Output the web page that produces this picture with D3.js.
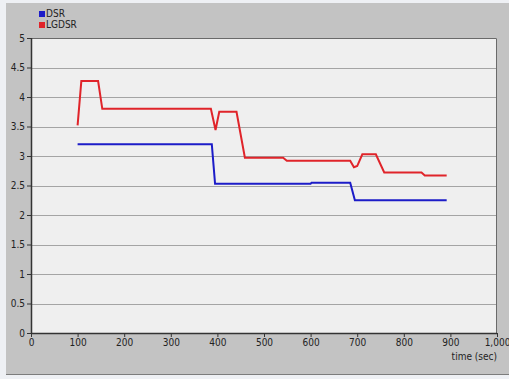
<!DOCTYPE html>
<html>
<head>
<meta charset="utf-8">
<script src="https://cdn.jsdelivr.net/npm/d3@7"></script>
<style>
  html, body { margin: 0; padding: 0; background: #f2f2f6; }
  svg { display: block; }
  text { font-family: "Liberation Sans Narrow", "DejaVu Sans Condensed", Arial, sans-serif; font-size: 10px; fill: #222; }
</style>
</head>
<body>
<svg id="chart" width="509" height="379"></svg>
<script>
// Series: time (sec) and metric value
const dsrTime  = [100, 388, 395, 600, 602, 685, 695, 892];
const dsrValue = [3.20, 3.20, 2.53, 2.53, 2.545, 2.545, 2.25, 2.25];

const lgdsrTime  = [100, 108, 144, 153, 386, 396, 404, 441, 459, 541, 549, 685, 693, 700, 711, 740, 758, 838, 845, 892];
const lgdsrValue = [3.52, 4.27, 4.27, 3.80, 3.80, 3.44, 3.75, 3.75, 2.97, 2.97, 2.92, 2.92, 2.81, 2.83, 3.03, 3.03, 2.72, 2.72, 2.67, 2.67];

const xTicks = [0, 100, 200, 300, 400, 500, 600, 700, 800, 900, 1000];
const yTicks = [0, 0.5, 1, 1.5, 2, 2.5, 3, 3.5, 4, 4.5, 5];
const seriesNames = ["DSR", "LGDSR"];
const seriesColors = ["#1c1cc8", "#e0242a"];

const svg = d3.select("#chart");
const W = 509, H = 379;
const plot = { left: 31, right: 497, top: 38, bottom: 333 };

// Panel background
svg.append("rect").attr("x", 0).attr("y", 0).attr("width", W).attr("height", H).attr("fill", "#eef0f4");
svg.append("rect").attr("x", 6).attr("y", 3).attr("width", W - 6).attr("height", 371).attr("fill", "#c3c3c3");
svg.append("line").attr("x1", 6).attr("x2", W).attr("y1", 374.5).attr("y2", 374.5).attr("stroke", "#7c7c7c").attr("stroke-width", 1);

const x = d3.scaleLinear().domain([0, 1000]).range([plot.left, plot.right]);
const y = d3.scaleLinear().domain([0, 5]).range([plot.bottom, plot.top]);

// Plot area
svg.append("rect")
  .attr("x", plot.left).attr("y", plot.top)
  .attr("width", plot.right - plot.left).attr("height", plot.bottom - plot.top)
  .attr("fill", "#efefef");

// Horizontal grid
svg.append("g").selectAll("line").data(yTicks.filter(d => d > 0 && d < 5)).join("line")
  .attr("x1", plot.left).attr("x2", plot.right)
  .attr("y1", d => Math.round(y(d)) + 0.5).attr("y2", d => Math.round(y(d)) + 0.5)
  .attr("stroke", "#a4a4a4").attr("stroke-width", 1);

// Top and right frame
svg.append("path")
  .attr("d", `M${plot.left},${plot.top + 0.5}H${plot.right - 0.5}V${plot.bottom}`)
  .attr("fill", "none").attr("stroke", "#6a6a6a").attr("stroke-width", 1);

// Axes
const xAxis = d3.axisBottom(x).tickValues(xTicks).tickSize(4).tickPadding(2)
  .tickFormat(d3.format(","));
const yAxis = d3.axisLeft(y).tickValues(yTicks).tickSize(4).tickPadding(2)
  .tickFormat(d => d3.format("")(d));

const gx = svg.append("g").attr("transform", `translate(0,${plot.bottom})`).call(xAxis);
const gy = svg.append("g").attr("transform", `translate(${plot.left},0)`).call(yAxis);
[gx, gy].forEach(g => {
  g.select(".domain").attr("stroke", "#333").attr("stroke-width", 1.5);
  g.selectAll(".tick line").attr("stroke", "#333");
  g.selectAll(".tick text").attr("fill", "#222").style("font-size", "10px")
    .style("font-family", "'Liberation Sans Narrow', 'DejaVu Sans Condensed', Arial, sans-serif");
});
gx.select(".domain").attr("d", `M${plot.left},0.5H${plot.right}`);
gy.select(".domain").attr("d", `M0.5,${plot.bottom}V${plot.top}`);

svg.append("text").attr("x", plot.right).attr("y", 360).attr("text-anchor", "end").text("time (sec)");

// Lines
const line = d3.line().x(d => x(d[0])).y(d => y(d[1]));
const series = [
  d3.zip(dsrTime, dsrValue),
  d3.zip(lgdsrTime, lgdsrValue)
];
series.forEach((pts, i) => {
  svg.append("path").datum(pts)
    .attr("d", line)
    .attr("fill", "none")
    .attr("stroke", seriesColors[i])
    .attr("stroke-width", 2)
    .attr("stroke-linejoin", "miter");
});

// Legend
const legend = svg.append("g").attr("transform", "translate(39,11)");
seriesNames.forEach((name, i) => {
  const g = legend.append("g").attr("transform", `translate(0,${i * 11})`);
  g.append("rect").attr("x", 0).attr("y", 0).attr("width", 6).attr("height", 6)
    .attr("fill", seriesColors[i]);
  g.append("text").attr("x", 7).attr("y", 6).text(name);
});
</script>
</body>
</html>
